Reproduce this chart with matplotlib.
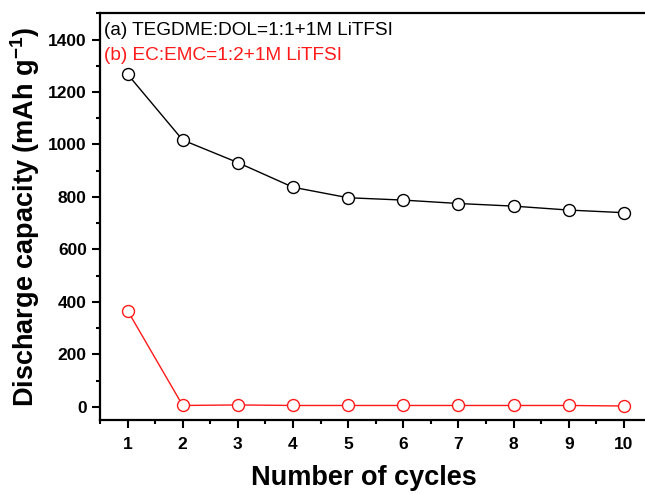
import numpy as np
import matplotlib
matplotlib.use('Agg')
import matplotlib.pyplot as plt
from matplotlib.ticker import MultipleLocator

plt.rcParams['font.family'] = ['Liberation Sans', 'DejaVu Sans']
plt.rcParams['mathtext.fontset'] = 'custom'
plt.rcParams['mathtext.rm'] = 'Liberation Sans'
plt.rcParams['mathtext.bf'] = 'Liberation Sans:bold'

# Datos
ciclos = [1, 2, 3, 4, 5, 6, 7, 8, 9, 10]
cap_tegdme = [1268, 1017, 931, 837, 797, 788, 775, 765, 750, 740]
cap_ec = [367, 5, 7, 5, 5, 5, 5, 5, 5, 3]
etiqueta_a = '(a) TEGDME:DOL=1:1+1M LiTFSI'
etiqueta_b = '(b) EC:EMC=1:2+1M LiTFSI'

fig = plt.figure(figsize=(6.45, 4.94), dpi=100)
ax = fig.add_axes([0.155, 0.150, 0.855, 0.823])

ax.plot(ciclos, cap_tegdme, '-o', color='black', lw=1, ms=8.6,
        mfc='white', mec='black', mew=1)
ax.plot(ciclos, cap_ec, '-o', color='#ff1a1a', lw=1, ms=8.6,
        mfc='white', mec='#ff1a1a', mew=1)

ax.set_xlim(0.5, 10.5)
ax.set_ylim(-50, 1500)
ax.set_xticks(ciclos)
ax.xaxis.set_minor_locator(MultipleLocator(0.5))
ax.yaxis.set_major_locator(MultipleLocator(200))
ax.yaxis.set_minor_locator(MultipleLocator(100))

ax.tick_params(which='major', direction='out', length=6, width=1.5,
               labelsize=12.5, top=False, right=False)
ax.tick_params(axis='x', which='major', pad=6)
ax.tick_params(which='minor', direction='out', length=3, width=1.5,
               top=False, right=False)
for lab in ax.get_xticklabels() + ax.get_yticklabels():
    lab.set_fontweight('bold')

for s in ax.spines.values():
    s.set_linewidth(1.6)

ax.set_xlabel('Number of cycles', fontsize=19.5, fontweight='bold')
ax.xaxis.set_label_coords(0.478, -0.112)
ax.set_ylabel(r'Discharge capacity (mAh g$^{\mathbf{-1}}$)', fontsize=19.5,
              fontweight='bold', labelpad=4)

ax.text(0.008, 0.978, etiqueta_a, transform=ax.transAxes, fontsize=13.7,
        color='black', va='top', ha='left')
ax.text(0.008, 0.918, etiqueta_b, transform=ax.transAxes, fontsize=13.7,
        color='#ff1a1a', va='top', ha='left')

fig.savefig('out.png', dpi=100)
